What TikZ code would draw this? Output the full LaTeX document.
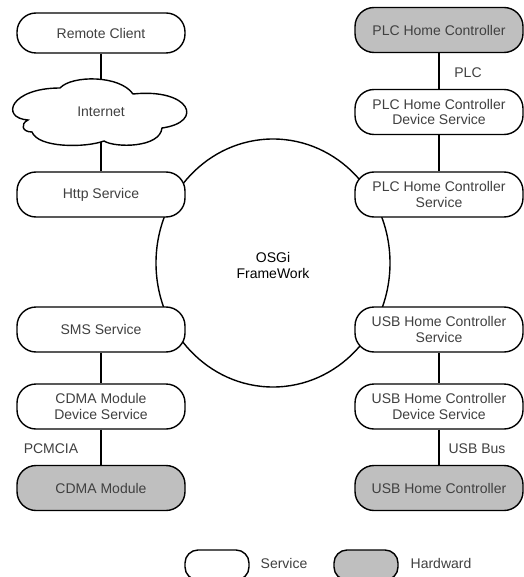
\documentclass[tikz,border=0pt]{standalone}
\usepackage{fontspec}
\setmainfont{Liberation Sans}
\begin{document}
\begin{tikzpicture}[x=1pt,y=-1pt,
  txt/.style={text=black!75},
  svc/.style={draw=black, line width=1.4pt, fill=white, rounded corners=19pt,
    minimum width=168pt, minimum height=45pt, align=center, font=\fontsize{14}{15.5}\selectfont, txt, inner sep=0pt},
  hw/.style={svc, fill=black!25},
  conn/.style={draw=black, line width=1.4pt},
  lbl/.style={font=\fontsize{14}{15.5}\selectfont, txt, inner sep=0pt},
  legsvc/.style={draw=black, line width=1.4pt, fill=white, rounded corners=13pt, minimum width=64pt, minimum height=30pt, inner sep=0pt},
  leghw/.style={legsvc, fill=black!25}
]
\useasboundingbox (0,0) rectangle (523,577);
\fill[white] (0,0) rectangle (523,577);

% OSGi framework ellipse
\draw[line width=1.4pt] (273,263) ellipse [x radius=117, y radius=124];
\node[font=\fontsize{14}{16}\selectfont, align=center, text=black, inner sep=0pt] (osgi) at (273,265) {OSGi\\FrameWork};

% left column
\node[svc, minimum height=40pt] (rc) at (101,33) {Remote Client};
\draw[line width=1.4pt, fill=white]
  (28,120) .. controls (0,118) and (10,88) .. (60,88)
  .. controls (72,75) and (120,75) .. (133,94)
  .. controls (190,88) and (205,122) .. (162,128)
  .. controls (160,148) and (115,148) .. (104,141)
  .. controls (85,148) and (38,148) .. (32,132)
  .. controls (22,132) and (20,124) .. cycle;
\node[lbl] (inet) at (101,112) {Internet};
\coordinate (inettop) at (101,79);
\coordinate (inetbot) at (101,142);
\node[svc] (http) at (101,194.5) {Http Service};
\node[svc] (sms) at (101,329.5) {SMS Service};
\node[svc] (cdmads) at (101,406.5) {CDMA Module\\Device Service};
\node[hw] (cdma) at (101,488) {CDMA Module};

% right column
\node[hw] (plchc) at (439,30) {PLC Home Controller};
\node[svc] (plcds) at (439,112) {PLC Home Controller\\Device Service};
\node[svc] (plcs) at (439,194.5) {PLC Home Controller\\Service};
\node[svc] (usbs) at (439,329.5) {USB Home Controller\\Service};
\node[svc] (usbds) at (439,406.5) {USB Home Controller\\Device Service};
\node[hw] (usbhc) at (439,488) {USB Home Controller};

% connectors
\draw[conn] (rc) -- (inettop);
\draw[conn] (inetbot) -- (http);
\draw[conn] (plchc) -- (plcds);
\draw[conn] (plcds) -- (plcs);
\draw[conn] (sms) -- (cdmads);
\draw[conn] (cdmads) -- (cdma);
\draw[conn] (usbs) -- (usbds);
\draw[conn] (usbds) -- (usbhc);

% connector labels
\node[lbl] (lplc) at (468,73) {PLC};
\node[lbl] (lpcm) at (51,449) {PCMCIA};
\node[lbl] (lusb) at (477,449) {USB Bus};

% legend
\node[legsvc] (legs) at (217,565) {};
\node[lbl] (legst) at (284,563) {Service};
\node[leghw] (legh) at (366,565) {};
\node[lbl] (leght) at (441,563) {Hardward};
\end{tikzpicture}
\end{document}
